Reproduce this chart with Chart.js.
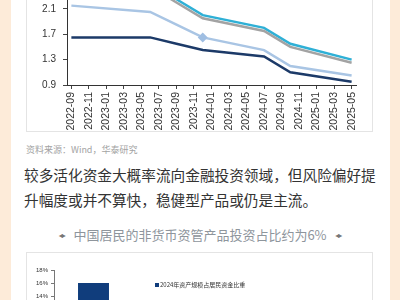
<!DOCTYPE html>
<html>
<head>
<meta charset="utf-8">
<script src="https://cdn.jsdelivr.net/npm/chart.js@4.4.1/dist/chart.umd.min.js"></script>
<style>
  body { margin: 0; width: 400px; height: 300px; overflow: hidden; background: #fdebd9; position: relative; font-family: "Noto Sans CJK SC", "Liberation Sans", sans-serif; }
  .panel { position: absolute; left: 11px; top: 0; width: 379px; height: 300px; background: #fff; }
  .box { position: absolute; border: 1px solid #e4e4e4; box-sizing: border-box; }
  .wrap { position: absolute; }
  .source { position: absolute; left: 26px; top: 143px; font-size: 9px; color: #a3a3a3; white-space: nowrap; }
  .para { position: absolute; left: 24px; top: 162px; font-size: 14.67px; line-height: 25px; color: #333; white-space: nowrap; }
  .title { position: absolute; left: 0; width: 400px; top: 225px; text-align: center; font-size: 13px; color: #8e959c; white-space: nowrap; }
  .orn { font-family: "DejaVu Sans"; font-size: 8px; letter-spacing: -1px; color: #777; vertical-align: 2px; }
  .legend2 { position: absolute; left: 155px; top: 280px; font-size: 6px; color: #333; white-space: nowrap; }
  .legend2 i { display: inline-block; width: 4px; height: 4px; background: #103d7c; margin-right: 1px; vertical-align: 0px; }
</style>
</head>
<body>
<div class="panel"></div>
<div class="box" style="left:26px; top:-20px; width:347px; height:152px;"></div>
<div class="wrap" style="left:26px; top:-55px; width:347px; height:187px;"><canvas id="rateChart"></canvas></div>
<div class="source">资料来源：Wind，华泰研究</div>
<div class="para">较多活化资金大概率流向金融投资领域，但风险偏好提<br>升幅度或并不算快，稳健型产品或仍是主流。</div>
<div class="title"><span class="orn">◂▸</span>&nbsp;&nbsp;&nbsp;中国居民的非货币资管产品投资占比约为6%&nbsp;&nbsp;&nbsp;<span class="orn">◂▸</span></div>
<div class="box" style="left:26px; top:252px; width:347px; height:100px;"></div>
<div class="wrap" style="left:27px; top:253px; width:345px; height:164px;"><canvas id="shareChart"></canvas></div>
<div class="legend2" id="legend2"></div>
<script>
// months on the x axis (monthly, labelled every 2 months)
const months = ['2022-09','2022-10','2022-11','2022-12','2023-01','2023-02','2023-03','2023-04','2023-05','2023-06',
  '2023-07','2023-08','2023-09','2023-10','2023-11','2023-12','2024-01','2024-02','2024-03','2024-04','2024-05',
  '2024-06','2024-07','2024-08','2024-09','2024-10','2024-11','2024-12','2025-01','2025-02','2025-03','2025-04','2025-05'];
// months where deposit rates changed
const changeMonths = ['2022-09','2023-06','2023-09','2023-12','2024-07','2024-10','2025-05'];
const rate1y = [1.65, 1.65, 1.55, 1.45, 1.35, 1.10, 0.95];
const rate2y = [2.15, 2.05, 1.85, 1.65, 1.45, 1.20, 1.05];
const rate3y = [2.60, 2.45, 2.20, 1.95, 1.75, 1.50, 1.25];
const rate5y = [2.65, 2.50, 2.25, 2.00, 1.80, 1.55, 1.30];
const markMonth = '2023-12';

// second chart
const shareCats = ['保险', '银行理财', '公募基金', '信托'];
const share2024 = [16.0, 11.5, 6.2, 2.5];
const shareLabel = '2024年资产规模占居民资金比重';

Chart.defaults.font.family = '"Liberation Sans", Arial, sans-serif';
Chart.defaults.color = '#333';

function pts(vals) {
    return changeMonths.map((m, i) => ({ x: m, y: vals[i] }));
}

const ctx = document.getElementById('rateChart').getContext('2d');
const rateChart = new Chart(ctx, {
    type: 'line',
    data: {
        labels: months,
        datasets: [
            { label: '1Y', data: pts(rate1y), borderColor: '#1c3a68', borderWidth: 2.5, pointRadius: 0 },
            { label: '2Y', data: pts(rate2y), borderColor: '#a9c5e4', borderWidth: 2.5,
              pointStyle: 'rectRot', pointBackgroundColor: '#9fbee2', pointBorderWidth: 0,
              pointRadius: c => (changeMonths[c.dataIndex] === markMonth ? 5 : 0) },
            { label: '3Y', data: pts(rate3y), borderColor: '#a3a3a3', borderWidth: 2.5, pointRadius: 0 },
            { label: '5Y', data: pts(rate5y), borderColor: '#2fb0d6', borderWidth: 2.5, pointRadius: 0 }
        ]
    },
    options: {
        responsive: true,
        maintainAspectRatio: false,
        animation: false,
        layout: { padding: { top: 7, right: 17, left: 0, bottom: 0 } },
        plugins: { legend: { display: false }, tooltip: { enabled: false } },
        elements: { line: { tension: 0 } },
        scales: {
            x: {
                offset: true,
                grid: { drawOnChartArea: false, tickLength: 4, color: '#444' },
                border: { color: '#333', width: 1 },
                afterBuildTicks: s => { s.ticks = s.ticks.filter(t => t.value % 2 === 0); },
                afterFit: s => { s.height = 47; },
                ticks: { autoSkip: false, minRotation: 90, maxRotation: 90, padding: 3,
                         font: { size: 10.5 }, color: '#333' }
            },
            y: {
                min: 0.9, max: 2.9,
                grid: { drawOnChartArea: false, tickLength: 4, color: '#444' },
                border: { color: '#333', width: 1 },
                afterFit: s => { s.width = 41; },
                ticks: { stepSize: 0.4, padding: 7, font: { size: 10 }, color: '#333',
                         callback: v => v.toFixed(1) }
            }
        }
    }
});

const ctx2 = document.getElementById('shareChart').getContext('2d');
const shareChart = new Chart(ctx2, {
    type: 'bar',
    data: {
        labels: shareCats,
        datasets: [{ label: shareLabel, data: share2024, backgroundColor: '#103d7c',
                     categoryPercentage: 0.8, barPercentage: 0.49 }]
    },
    options: {
        responsive: true,
        maintainAspectRatio: false,
        animation: false,
        layout: { padding: { top: 17, right: 2, left: 0, bottom: 0 } },
        plugins: { legend: { display: false }, tooltip: { enabled: false } },
        scales: {
            x: {
                grid: { display: false },
                border: { color: '#666' },
                afterFit: s => { s.height = 30; },
                ticks: { font: { size: 6 } }
            },
            y: {
                min: 0, max: 18,
                grid: { drawOnChartArea: false, tickLength: 3, color: '#777' },
                border: { color: '#777' },
                afterFit: s => { s.width = 27; },
                ticks: { stepSize: 2, padding: 3, font: { size: 6 }, color: '#333',
                         callback: v => v + '%' }
            }
        }
    }
});

document.getElementById('legend2').innerHTML = '<i></i>' + shareChart.data.datasets[0].label;
</script>
</body>
</html>
